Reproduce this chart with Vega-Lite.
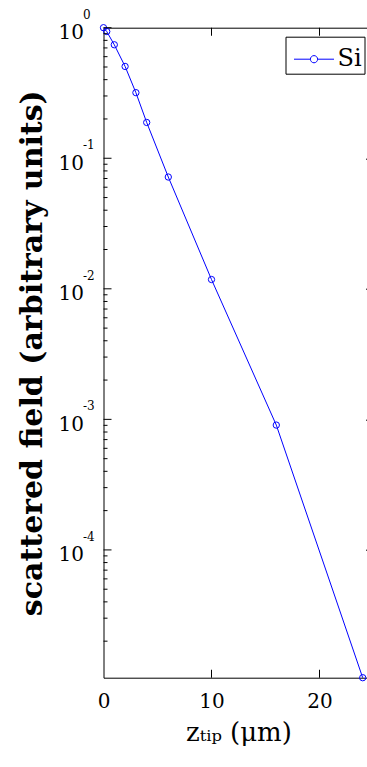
{
  "$schema": "https://vega.github.io/schema/vega-lite/v6.json",
  "autosize": "none",
  "padding": {"left": 103.5, "top": 27.7, "right": 0, "bottom": 89.3},
  "width": 270,
  "height": 650,
  "background": "white",
  "config": {
    "view": {"stroke": "#000000", "strokeWidth": 1},
    "axis": {
      "domain": false,
      "grid": false,
      "labelFont": "DejaVu Serif",
      "labelFontSize": 20,
      "labelColor": "#000000",
      "tickColor": "#000000",
      "tickWidth": 1,
      "titleFont": "DejaVu Serif",
      "titleColor": "#000000"
    }
  },
  "datasets": {
    "si": [
      {"z": 0, "field": 1.0, "material": "Si"},
      {"z": 0.3, "field": 0.935, "material": "Si"},
      {"z": 1, "field": 0.74, "material": "Si"},
      {"z": 2, "field": 0.505, "material": "Si"},
      {"z": 3, "field": 0.318, "material": "Si"},
      {"z": 4, "field": 0.188, "material": "Si"},
      {"z": 6, "field": 0.0718, "material": "Si"},
      {"z": 10, "field": 0.01178, "material": "Si"},
      {"z": 16, "field": 0.000904, "material": "Si"},
      {"z": 24, "field": 0.0000105, "material": "Si"}
    ],
    "exponents": [
      {"decade": 1, "exponent": "0"},
      {"decade": 0.1, "exponent": "-1"},
      {"decade": 0.01, "exponent": "-2"},
      {"decade": 0.001, "exponent": "-3"},
      {"decade": 0.0001, "exponent": "-4"}
    ],
    "minorTicks": [
      {"v": 0.00002}, {"v": 0.00003}, {"v": 0.00004}, {"v": 0.00005}, {"v": 0.00006}, {"v": 0.00007}, {"v": 0.00008}, {"v": 0.00009},
      {"v": 0.0002}, {"v": 0.0003}, {"v": 0.0004}, {"v": 0.0005}, {"v": 0.0006}, {"v": 0.0007}, {"v": 0.0008}, {"v": 0.0009},
      {"v": 0.002}, {"v": 0.003}, {"v": 0.004}, {"v": 0.005}, {"v": 0.006}, {"v": 0.007}, {"v": 0.008}, {"v": 0.009},
      {"v": 0.02}, {"v": 0.03}, {"v": 0.04}, {"v": 0.05}, {"v": 0.06}, {"v": 0.07}, {"v": 0.08}, {"v": 0.09},
      {"v": 0.2}, {"v": 0.3}, {"v": 0.4}, {"v": 0.5}, {"v": 0.6}, {"v": 0.7}, {"v": 0.8}, {"v": 0.9}
    ],
    "xTicks": [{"z": 10}, {"z": 20}]
  },
  "resolve": {"axis": {"x": "independent", "y": "independent"}},
  "layer": [
    {
      "data": {"name": "si"},
      "mark": {
        "type": "line",
        "strokeWidth": 1,
        "point": {"filled": false, "size": 40, "strokeWidth": 1}
      },
      "encoding": {
        "x": {
          "field": "z",
          "type": "quantitative",
          "scale": {"domain": [0, 25], "nice": false, "zero": false},
          "axis": {
            "orient": "bottom",
            "values": [0, 10, 20],
            "ticks": false,
            "labelFlush": false,
            "labelPadding": 14,
            "title": "zₜᵢₚ (μm)",
            "titleFontSize": 26,
            "titleFontWeight": "normal",
            "titlePadding": 8
          }
        },
        "y": {
          "field": "field",
          "type": "quantitative",
          "scale": {"type": "log", "domain": [0.0000105, 1], "nice": false},
          "axis": {
            "orient": "left",
            "values": [0.0001, 0.001, 0.01, 0.1, 1],
            "labelExpr": "'10'",
            "labelOffset": 5,
            "ticks": false,
            "labelPadding": 20,
            "title": "scattered field (arbitrary units)",
            "titleFontSize": 30,
            "titleFontWeight": "bold",
            "titlePadding": 11
          }
        },
        "color": {
          "field": "material",
          "type": "nominal",
          "scale": {"range": ["#0000ff"]},
          "legend": {
            "title": null,
            "orient": "top-right",
            "offset": 9,
            "padding": 2,
            "strokeColor": "#000000",
            "fillColor": "#ffffff",
            "symbolType": "M-1,0H-0.18M0.18,0H1M0.18,0A0.18,0.18,0,1,1,-0.18,0A0.18,0.18,0,1,1,0.18,0",
            "symbolSize": 1600,
            "symbolStrokeWidth": 1,
            "symbolOffset": 6,
            "labelFont": "DejaVu Serif",
            "labelFontSize": 24,
            "labelColor": "#000000",
            "labelOffset": 3
          }
        }
      }
    },
    {
      "data": {"name": "exponents"},
      "mark": {
        "type": "text",
        "font": "DejaVu Serif",
        "fontSize": 12,
        "align": "left",
        "baseline": "middle",
        "dx": -20.5,
        "dy": -13,
        "color": "#000000"
      },
      "encoding": {
        "x": {"datum": 0, "type": "quantitative", "axis": null},
        "y": {
          "field": "decade",
          "type": "quantitative",
          "axis": {
            "orient": "right",
            "values": [0.0001, 0.001, 0.01, 0.1],
            "offset": -8,
            "tickSize": 8,
            "labels": false,
            "title": null
          }
        },
        "text": {"field": "exponent", "type": "nominal"}
      }
    },
    {
      "data": {"name": "exponents"},
      "mark": {"type": "tick", "orient": "horizontal", "size": 8, "thickness": 1, "xOffset": 4, "color": "#000000", "opacity": 1},
      "encoding": {
        "x": {"datum": 0, "type": "quantitative", "axis": null},
        "y": {"field": "decade", "type": "quantitative", "axis": null}
      }
    },
    {
      "data": {"name": "minorTicks"},
      "mark": {"type": "tick", "orient": "horizontal", "size": 4, "thickness": 1, "xOffset": 2, "color": "#000000", "opacity": 1},
      "encoding": {
        "x": {"datum": 0, "type": "quantitative", "axis": null},
        "y": {"field": "v", "type": "quantitative", "axis": null}
      }
    },
    {
      "data": {"name": "xTicks"},
      "mark": {"type": "tick", "orient": "vertical", "size": 8, "thickness": 1, "yOffset": -4, "color": "#000000", "opacity": 1},
      "encoding": {
        "x": {"field": "z", "type": "quantitative", "axis": null},
        "y": {"datum": 0.0000105, "type": "quantitative", "axis": null}
      }
    },
    {
      "data": {"name": "xTicks"},
      "mark": {"type": "tick", "orient": "vertical", "size": 8, "thickness": 1, "yOffset": 4, "color": "#000000", "opacity": 1},
      "encoding": {
        "x": {"field": "z", "type": "quantitative", "axis": null},
        "y": {"datum": 1, "type": "quantitative", "axis": null}
      }
    }
  ]
}
